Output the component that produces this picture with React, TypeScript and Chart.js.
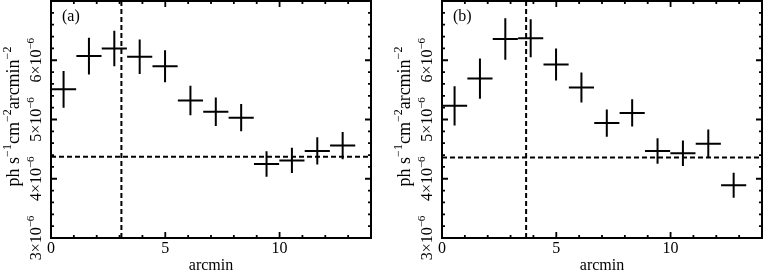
import React, { useEffect, useRef } from 'react';
import { Chart, registerables } from 'chart.js';

Chart.register(...registerables);

const FONT = '"Liberation Serif", "Times New Roman", serif';

// bin centres (arcmin) and half-width
const radii = [0.55, 1.66, 2.77, 3.88, 4.99, 6.1, 7.21, 8.32, 9.43, 10.54, 11.65, 12.76];
const binHalfWidth = 0.55;

// panel (a)
const fluxA = [5.51e-6, 6.07e-6, 6.2e-6, 6.06e-6, 5.9e-6, 5.32e-6, 5.13e-6, 5.03e-6, 4.25e-6, 4.31e-6, 4.47e-6, 4.56e-6];
const errA = [0.31e-6, 0.31e-6, 0.3e-6, 0.29e-6, 0.27e-6, 0.25e-6, 0.24e-6, 0.23e-6, 0.215e-6, 0.215e-6, 0.23e-6, 0.23e-6];
const backgroundA = 4.37e-6;
const markerA = 3.08;

// panel (b)
const fluxB = [5.23e-6, 5.69e-6, 6.36e-6, 6.37e-6, 5.93e-6, 5.54e-6, 4.94e-6, 5.11e-6, 4.47e-6, 4.43e-6, 4.59e-6, 3.89e-6];
const errB = [0.33e-6, 0.34e-6, 0.35e-6, 0.32e-6, 0.27e-6, 0.255e-6, 0.23e-6, 0.23e-6, 0.215e-6, 0.215e-6, 0.24e-6, 0.21e-6];
const backgroundB = 4.36e-6;
const markerB = 3.68;

// axes
const xMin = 0;
const xMax = 14;
const yMin = 3e-6;
const yMax = 7e-6;
const xMajorTicks = [0, 5, 10];
const xTickLabels = ['0', '5', '10'];
const yMajorTicks = [3e-6, 4e-6, 5e-6, 6e-6];
const yTickMantissas = ['3', '4', '5', '6'];
const yTickExponent = '−6';
const xTitle = 'arcmin';
const yTitleParts: [string, boolean][] = [
  ['ph s', false], ['−1', true], ['cm', false], ['−2', true], ['arcmin', false], ['−2', true],
];

const AREA_LEFT = 51;
const AREA_RIGHT = 371;
const AREA_TOP = 1;
const X_SCALE_H = 39;

type PanelProps = {
  left: number;
  width: number;
  label: string;
  flux: number[];
  err: number[];
  bg: number;
  marker: number;
};

function drawParts(ctx: CanvasRenderingContext2D, parts: [string, boolean][], size: number, supSize: number) {
  const widths = parts.map(([t, sup]) => {
    ctx.font = `${sup ? supSize : size}px ${FONT}`;
    return ctx.measureText(t).width;
  });
  const total = widths.reduce((a, b) => a + b, 0);
  let x = -total / 2;
  parts.forEach(([t, sup], i) => {
    ctx.font = `${sup ? supSize : size}px ${FONT}`;
    ctx.fillText(t, x, sup ? -size * 0.42 : 0);
    x += widths[i];
  });
}

function Panel({ left, width, label, flux, err, bg, marker }: PanelProps) {
  const ref = useRef<HTMLCanvasElement>(null);
  useEffect(() => {
    const framePlugin = {
      id: 'framePlugin',
      afterDraw(chart: any) {
        const { ctx, chartArea: a } = chart;
        const xs = chart.scales.x;
        const ys = chart.scales.y;
        ctx.save();
        ctx.strokeStyle = '#000';
        ctx.fillStyle = '#000';

        // dashed reference lines
        ctx.lineWidth = 2;
        ctx.setLineDash([5, 3]);
        const by = ys.getPixelForValue(bg);
        ctx.beginPath();
        ctx.moveTo(a.left, by);
        ctx.lineTo(a.right, by);
        ctx.stroke();
        const mx = xs.getPixelForValue(marker);
        ctx.beginPath();
        ctx.moveTo(mx, a.top);
        ctx.lineTo(mx, a.bottom);
        ctx.stroke();
        ctx.setLineDash([]);

        // error-bar crosses
        ctx.lineWidth = 2;
        radii.forEach((r, i) => {
          const cx = xs.getPixelForValue(r);
          const cy = ys.getPixelForValue(flux[i]);
          ctx.beginPath();
          ctx.moveTo(xs.getPixelForValue(r - binHalfWidth), cy);
          ctx.lineTo(xs.getPixelForValue(r + binHalfWidth), cy);
          ctx.moveTo(cx, ys.getPixelForValue(flux[i] - err[i]));
          ctx.lineTo(cx, ys.getPixelForValue(flux[i] + err[i]));
          ctx.stroke();
        });

        // frame
        ctx.lineWidth = 2;
        ctx.strokeRect(a.left, a.top, a.right - a.left, a.bottom - a.top);

        // inward ticks
        ctx.lineWidth = 1.8;
        ctx.beginPath();
        for (let v = xMin; v <= xMax + 1e-9; v += 1) {
          const px = xs.getPixelForValue(v);
          const len = xMajorTicks.includes(v) ? 6 : 3;
          ctx.moveTo(px, a.bottom);
          ctx.lineTo(px, a.bottom - len);
          ctx.moveTo(px, a.top);
          ctx.lineTo(px, a.top + len);
        }
        for (let k = 0; k <= 20; k++) {
          const v = yMin + k * 0.2e-6;
          const py = ys.getPixelForValue(v);
          const len = k % 5 === 0 ? 6 : 3;
          ctx.moveTo(a.left, py);
          ctx.lineTo(a.left + len, py);
          ctx.moveTo(a.right, py);
          ctx.lineTo(a.right - len, py);
        }
        ctx.stroke();

        // x tick labels
        ctx.textBaseline = 'alphabetic';
        ctx.textAlign = 'center';
        ctx.font = `16px ${FONT}`;
        xMajorTicks.forEach((v, i) => {
          ctx.fillText(xTickLabels[i], xs.getPixelForValue(v), a.bottom + 15);
        });
        // x title
        ctx.font = `16px ${FONT}`;
        ctx.fillText(xTitle, (a.left + a.right) / 2, a.bottom + 32);

        // y tick labels (rotated)
        ctx.textAlign = 'left';
        yMajorTicks.forEach((v, i) => {
          const py = ys.getPixelForValue(v);
          ctx.save();
          ctx.translate(a.left - 10, py);
          ctx.rotate(-Math.PI / 2);
          drawParts(ctx, [[yTickMantissas[i] + '×10', false], [yTickExponent, true]], 16, 11);
          ctx.restore();
        });

        // y title (rotated)
        ctx.save();
        ctx.translate(a.left - 32, (a.top + a.bottom) / 2 - 3);
        ctx.rotate(-Math.PI / 2);
        drawParts(ctx, yTitleParts, 18, 12);
        ctx.restore();

        // panel label
        ctx.textAlign = 'left';
        ctx.font = `16px ${FONT}`;
        ctx.fillText(label, a.left + 11, a.top + 20);

        ctx.restore();
      },
    };

    const chart = new Chart(ref.current as HTMLCanvasElement, {
      type: 'scatter',
      data: {
        datasets: [
          {
            data: radii.map((r, i) => ({ x: r, y: flux[i] })),
            pointRadius: 0,
            showLine: false,
          },
        ],
      },
      options: {
        responsive: false,
        animation: false,
        events: [],
        layout: { padding: { left: 0, top: AREA_TOP, right: width - AREA_RIGHT, bottom: 0 } },
        plugins: { legend: { display: false }, tooltip: { enabled: false } },
        scales: {
          x: {
            type: 'linear',
            min: xMin,
            max: xMax,
            ticks: { display: false },
            grid: { display: false },
            border: { display: false },
            afterFit: (s: any) => {
              s.height = X_SCALE_H;
            },
          },
          y: {
            type: 'linear',
            min: yMin,
            max: yMax,
            ticks: { display: false },
            grid: { display: false },
            border: { display: false },
            afterFit: (s: any) => {
              s.width = AREA_LEFT;
            },
          },
        },
      },
      plugins: [framePlugin],
    } as any);
    return () => chart.destroy();
  }, []);
  return (
    <canvas
      ref={ref}
      width={width}
      height={277}
      style={{ position: 'absolute', left, top: 0, width, height: 277 }}
    />
  );
}

export default function App() {
  return (
    <div style={{ position: 'fixed', left: 0, top: 0, width: 763, height: 277, background: '#fff' }}>
      <Panel left={0} width={383} label="(a)" flux={fluxA} err={errA} bg={backgroundA} marker={markerA} />
      <Panel left={391} width={372} label="(b)" flux={fluxB} err={errB} bg={backgroundB} marker={markerB} />
    </div>
  );
}
